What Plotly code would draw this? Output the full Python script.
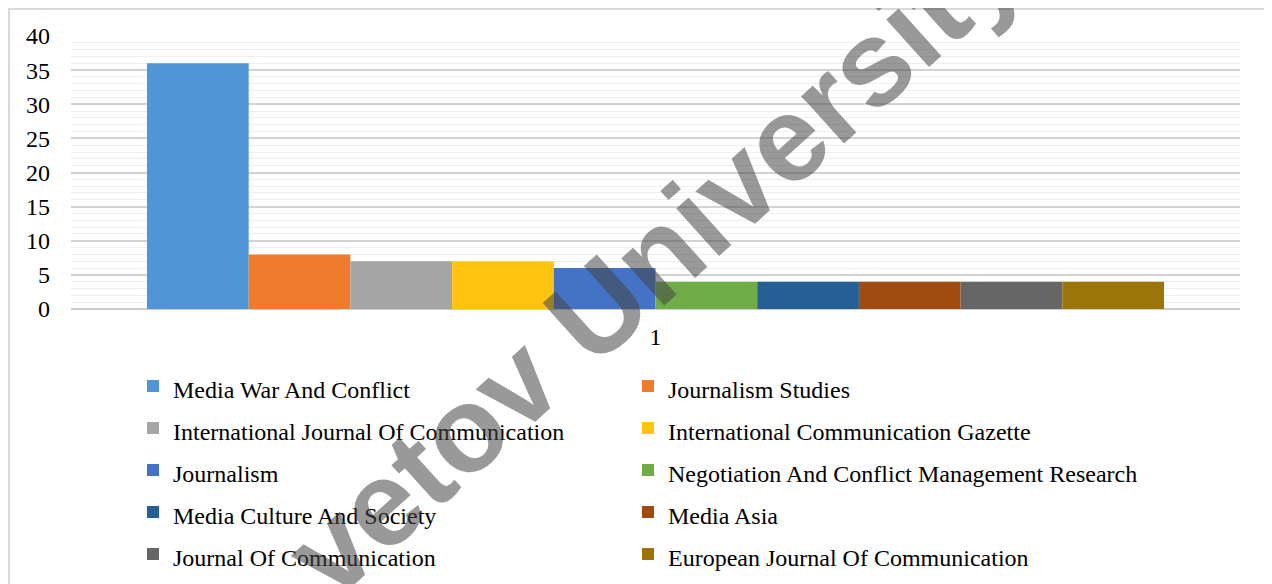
import plotly.graph_objects as go

categories = ["1"]
journals = [
    "Media War And Conflict",
    "Journalism Studies",
    "International Journal Of Communication",
    "International Communication Gazette",
    "Journalism",
    "Negotiation And Conflict Management Research",
    "Media Culture And Society",
    "Media Asia",
    "Journal Of Communication",
    "European Journal Of Communication",
]
counts = [36, 8, 7, 7, 6, 4, 4, 4, 4, 4]
colors = ["#5095D6", "#EF7C2E", "#A5A5A5", "#FFC40F", "#4472C4",
          "#70AD47", "#265F93", "#A14A12", "#666666", "#9C7508"]
y_ticks = [0, 5, 10, 15, 20, 25, 30, 35, 40]

FONT = "Liberation Serif"

fig = go.Figure()
for i, (name, val, col) in enumerate(zip(journals, counts, colors)):
    fig.add_trace(go.Bar(
        x=categories, y=[val],
        name='<span style="font-size:24px">' + name + '</span>',
        marker=dict(color=col, line=dict(width=0)),
        legend="legend" if i % 2 == 0 else "legend2",
    ))

# page has an 8px body margin: figure coords = page coords - 8
OFF = 8
W, H = 1264, 576
L, R, T, B = 63, 32, 28, 275
pw, ph = W - L - R, H - T - B

def px_x(p):  # p in page pixels
    return (p - OFF - L) / pw

def px_y(p):
    return (H - B - (p - OFF)) / ph

legend_common = dict(
    orientation="v", xanchor="left", yanchor="top",
    font=dict(family=FONT, size=30, color="black"),
    traceorder="normal", tracegroupgap=0,
    bgcolor="rgba(0,0,0,0)",
)

fig.update_layout(
    width=W, height=H,
    margin=dict(l=L, r=R, t=T, b=B, autoexpand=False),
    paper_bgcolor="white", plot_bgcolor="white",
    barmode="group", bargap=0.13, bargroupgap=0,
    font=dict(family=FONT, size=24, color="black"),
    showlegend=True,
    legend=dict(x=px_x(133), y=px_y(360), **legend_common),
    legend2=dict(x=px_x(628), y=px_y(360), **legend_common),
    xaxis=dict(
        type="category", showgrid=False, zeroline=False,
        showline=False, ticks="",
        tickfont=dict(family=FONT, size=24, color="black"),
        ticklabelstandoff=11,
    ),
    yaxis=dict(
        range=[0, 40], tickvals=y_ticks,
        showgrid=True, gridcolor="#d3d3d3", gridwidth=1.5,
        minor=dict(dtick=1, showgrid=True, gridcolor="#eeeeee", gridwidth=1),
        zeroline=True, zerolinecolor="#cccccc", zerolinewidth=2,
        showline=False, ticks="",
        tickfont=dict(family=FONT, size=24, color="black"),
        ticklabelstandoff=20,
    ),
    shapes=[dict(
        type="rect", xref="paper", yref="paper",
        x0=px_x(9), x1=px_x(1269), y0=px_y(620), y1=px_y(9),
        line=dict(color="#d9d9d9", width=2), fillcolor="rgba(0,0,0,0)",
        layer="below",
    )],
    annotations=[dict(
        text="<b>vetov University</b>", xref="paper", yref="paper",
        x=px_x(652), y=px_y(260), xanchor="center", yanchor="middle",
        showarrow=False, textangle=-42,
        font=dict(family="Liberation Sans", size=121,
                  color="rgba(70,70,70,0.55)"),
    )],
)

fig.write_html("out.html")
